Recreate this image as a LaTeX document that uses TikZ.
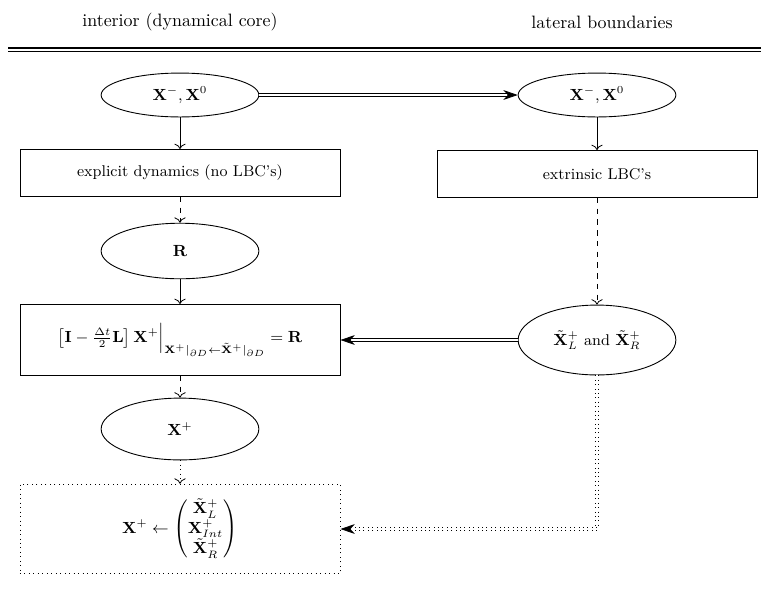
\documentclass[tikz,border=0pt]{standalone}
\usepackage{amsmath}
\usetikzlibrary{shapes.geometric,arrows.meta}
\begin{document}
\begin{tikzpicture}[x=0.558pt,y=-0.558pt,
		oval/.style={draw,ellipse,line width=0.5pt,inner sep=0pt,minimum width=88pt},
		block/.style={draw,rectangle,line width=0.5pt,inner sep=0pt,minimum width=178.6pt},
		flow/.style={-{To[length=3pt]},line width=0.45pt},
		twin/.style={double,double distance=1.3pt,line width=0.45pt,-{Stealth[length=8pt,width=5.5pt,inset=2.5pt]}}]
				\newcommand{\mynodefont}[1]{
					\fontsize{8.7}{10.4}\selectfont{#1}
				}%Page frame
				\useasboundingbox (0,0) rectangle (761,593);
				%Column titles and the rules below them
				\node (headInt) at (180,22) {interior (dynamical core)};
				\node (headLat) at (602,22) {lateral boundaries};
				\draw [line width=1.3pt] (8,48) -- (761,48);
				\draw [line width=0.6pt] (8,51.6) -- (761,51.6);
				%Centres of the left column
				\coordinate (cOldL) at (180,95);
				\coordinate (cExpl) at (180,173);
				\coordinate (cRhs) at (180,251);
				\coordinate (cSolve) at (180,340);
				\coordinate (cNew) at (180,429);
				\coordinate (cMerge) at (180,529);
				%Centres of the right column
				\coordinate (cOldR) at (597,95);
				\coordinate (cExtr) at (597,174);
				\coordinate (cBnd) at (597,340);
				%Interior column
				\node [oval,minimum height=24.5pt] (oldL) at (cOldL) {\mynodefont{$\mathbf{X}^{-},\mathbf{X}^{0}$}};
				\node [block,minimum height=26.2pt] (expl) at (cExpl) {\mynodefont{explicit dynamics (no LBC's)}};
				\node [oval,minimum height=31pt] (rhs) at (cRhs) {\mynodefont{$\mathbf{R}$}};
				\node [block,minimum height=39.6pt] (solve) at (cSolve) {\mynodefont{$\left[\mathbf{I}-\frac{\Delta t}{2}\mathbf{L}\right]\mathbf{X}^{+}\Big|_{\mathbf{X}^{+}|_{\partial D}\leftarrow\tilde{\mathbf{X}}^{+}|_{\partial D}}=\mathbf{R}$}};
				\node [oval,minimum height=34.5pt] (new) at (cNew) {\mynodefont{$\mathbf{X}^{+}$}};
				\node [block,dotted,minimum height=50pt] (merge) at (cMerge) {\mynodefont{$\mathbf{X}^{+}\leftarrow\begin{pmatrix}\tilde{\mathbf{X}}^{+}_{L}\\ \mathbf{X}^{+}_{Int}\\ \tilde{\mathbf{X}}^{+}_{R}\end{pmatrix}$}};
				%Boundary column
				\node [oval,minimum height=24.5pt] (oldR) at (cOldR) {\mynodefont{$\mathbf{X}^{-},\mathbf{X}^{0}$}};
				\node [block,minimum height=26.2pt] (extr) at (cExtr) {\mynodefont{extrinsic LBC's}};
				\node [oval,minimum height=39pt] (bnd) at (cBnd) {\mynodefont{$\tilde{\mathbf{X}}^{+}_{L}$ and $\tilde{\mathbf{X}}^{+}_{R}$}};
				%Arrows down the interior column
				\draw [flow] (oldL) -- (expl);
				\draw [flow,dashed] (expl) -- (rhs);
				\draw [flow] (rhs) -- (solve);
				\draw [flow,dashed] (solve) -- (new);
				\draw [flow,dotted] (new) -- (merge);
				%Arrows down the boundary column
				\draw [flow] (oldR) -- (extr);
				\draw [flow,dashed] (extr) -- (bnd);
				%Double arrows between the columns
				\draw [twin] (oldL) -- (oldR);
				\draw [twin] (bnd) -- (solve);
				\draw [twin,dotted] (bnd.south) |- (merge.east);
				\end{tikzpicture}
\end{document}
